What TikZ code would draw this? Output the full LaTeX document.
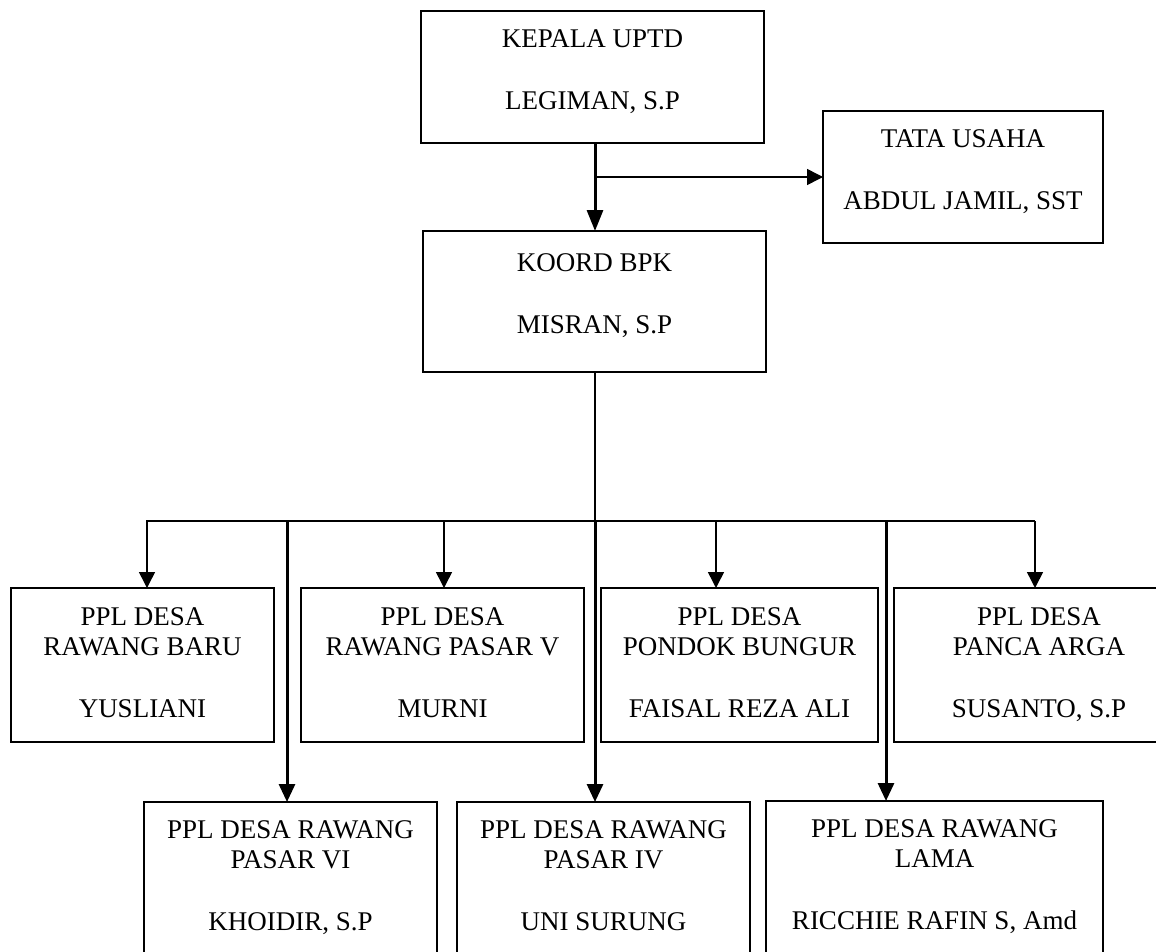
\documentclass[tikz,border=0pt]{standalone}
\usepackage{fontspec}
\setmainfont{Liberation Serif}
\usetikzlibrary{arrows.meta}

% pushes the text of a box a little up
\newcommand{\lowstrut}[1]{\rule[-#1]{0pt}{0pt}}

\begin{document}
\begin{tikzpicture}[x=1pt, y=-1pt,
	box/.style={draw, line width=1.8pt, anchor=north west, align=center, inner sep=0pt, outer sep=0pt, font=\fontsize{27}{30}\selectfont},
	thin line/.style={line width=1.5pt},
	thin arrow/.style={line width=1.5pt, -{Triangle[length=16pt,width=16pt]}},
	thick arrow/.style={line width=3pt, -{Triangle[length=18pt,width=16pt]}}]
	%\draw [step=50,lightgray, very thin] (0,0) grid (1156,951);
	\useasboundingbox (0,0) rectangle (1156,951);
	% top
	\node[box, minimum width=343pt, minimum height=132pt] (kepala) at (421,11) {KEPALA UPTD\\[32pt]LEGIMAN, S.P\lowstrut{14pt}};
	\node[box, minimum width=280pt, minimum height=132pt] (tata) at (823,111) {TATA USAHA\\[32pt]ABDUL JAMIL, SST\lowstrut{14pt}};
	\node[box, minimum width=343pt, minimum height=141pt] (koord) at (423,231) {KOORD BPK\\[32pt]MISRAN, S.P\lowstrut{16pt}};
	
	% first row
	\node[box, minimum width=263pt, minimum height=154pt] (rbaru) at (11,588) {PPL DESA\\RAWANG BARU\\[32pt]YUSLIANI\lowstrut{4pt}};
	\node[box, minimum width=283pt, minimum height=154pt] (rpasarv) at (301,588) {PPL DESA\\RAWANG PASAR V\\[32pt]MURNI\lowstrut{4pt}};
	\node[box, minimum width=277pt, minimum height=154pt] (pbungur) at (601,588) {PPL DESA\\PONDOK BUNGUR\\[32pt]FAISAL REZA ALI\lowstrut{4pt}};
	\node[box, minimum width=290pt, minimum height=154pt] (parga) at (894,588) {PPL DESA\\PANCA ARGA\\[32pt]SUSANTO, S.P\lowstrut{4pt}};
	
	% second row (runs off the page)
	\node[box, minimum width=293pt, minimum height=154pt] (rpasarvi) at (144,802) {PPL DESA RAWANG\\PASAR VI\\[32pt]KHOIDIR, S.P\lowstrut{6pt}};
	\node[box, minimum width=293pt, minimum height=154pt] (rpasariv) at (457,802) {PPL DESA RAWANG\\PASAR IV\\[32pt]UNI SURUNG\lowstrut{6pt}};
	\node[box, minimum width=337pt, minimum height=154pt] (rlama) at (766,801) {PPL DESA RAWANG\\LAMA\\[32pt]RICCHIE RAFIN S, Amd\lowstrut{6pt}};
	
	% points on the bus line
	\coordinate (stem) at (595,521);
	\coordinate (b1) at (147,521);
	\coordinate (b2) at (444,521);
	\coordinate (b3) at (716,521);
	\coordinate (b4) at (1035,521);
	\coordinate (c1) at (287,521);
	\coordinate (c3) at (886,521);
	
	\draw[thick arrow, -{Triangle[length=21pt,width=16pt]}] (kepala.south -| stem) -- (koord.north -| stem);
	\draw[thin arrow] (tata.west -| stem) -- (tata.west);
	\draw[thin line] (koord.south -| stem) -- (stem);
	\draw[thin arrow] (b4) -- (b1) -- (b1 |- rbaru.north);
	\foreach \c/\n in {b2/rpasarv, b3/pbungur, b4/parga}
		\draw[thin arrow] (\c) -- (\c |- \n.north);
	\foreach \c/\n in {c1/rpasarvi, stem/rpasariv, c3/rlama}
		\draw[thick arrow] (\c) -- (\c |- \n.north);
\end{tikzpicture}
\end{document}
